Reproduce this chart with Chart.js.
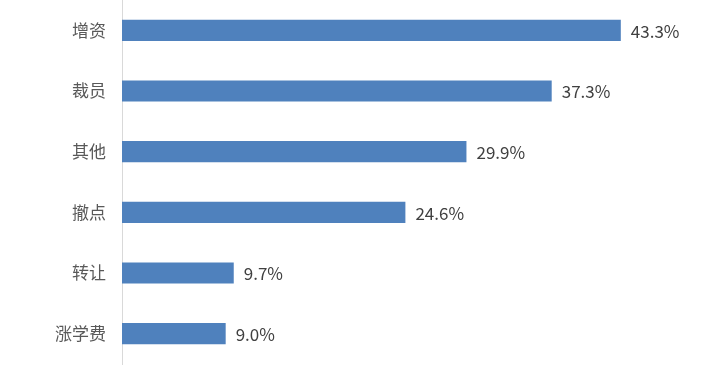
<!DOCTYPE html>
<html>
<head>
<meta charset="utf-8">
<script src="https://cdn.jsdelivr.net/npm/chart.js@4"></script>
<style>
  body { margin: 0; background: #fff; }
  #wrap { width: 723px; height: 389px; position: relative; }
</style>
</head>
<body>
<div id="wrap"><canvas id="myChart"></canvas></div>
<script>
const categories = ['增资', '裁员', '其他', '撤点', '转让', '涨学费'];
const shares = [43.3, 37.3, 29.9, 24.6, 9.7, 9.0];

const valueLabels = {
  id: 'valueLabels',
  afterDatasetsDraw(chart) {
    const ctx = chart.ctx;
    const meta = chart.getDatasetMeta(0);
    ctx.save();
    ctx.font = '17px "Noto Sans CJK SC", "Noto Sans", sans-serif';
    ctx.fillStyle = '#404040';
    ctx.textAlign = 'left';
    ctx.textBaseline = 'middle';
    meta.data.forEach(function(bar, i) {
      ctx.fillText(shares[i].toFixed(1) + '%', bar.x + 10, bar.y + 1);
    });
    ctx.restore();
  }
};

document.addEventListener('DOMContentLoaded', function() {
  const ctx = document.getElementById('myChart');

  new Chart(ctx, {
    type: 'bar',
    data: {
      labels: categories,
      datasets: [{
        data: shares,
        backgroundColor: '#4f81bd',
        categoryPercentage: 0.35,
        barPercentage: 1
      }]
    },
    options: {
      indexAxis: 'y',
      responsive: true,
      maintainAspectRatio: false,
      animation: false,
      layout: { padding: { top: 0, right: 25, bottom: 25, left: 0 } },
      plugins: {
        legend: { display: false },
        tooltip: { enabled: false }
      },
      scales: {
        x: {
          display: false,
          min: 0,
          max: 50
        },
        y: {
          grid: { display: false },
          border: { display: true, color: '#d9d9d9', width: 1 },
          ticks: {
            color: '#595959',
            padding: 8,
            font: { family: '"Noto Sans CJK SC", sans-serif', size: 17 }
          },
          afterFit: function(scale) {
            scale.width = 122;
            scale.paddingTop = 0;
            scale.paddingBottom = 0;
          }
        }
      }
    },
    plugins: [valueLabels]
  });
});
</script>
</body>
</html>
